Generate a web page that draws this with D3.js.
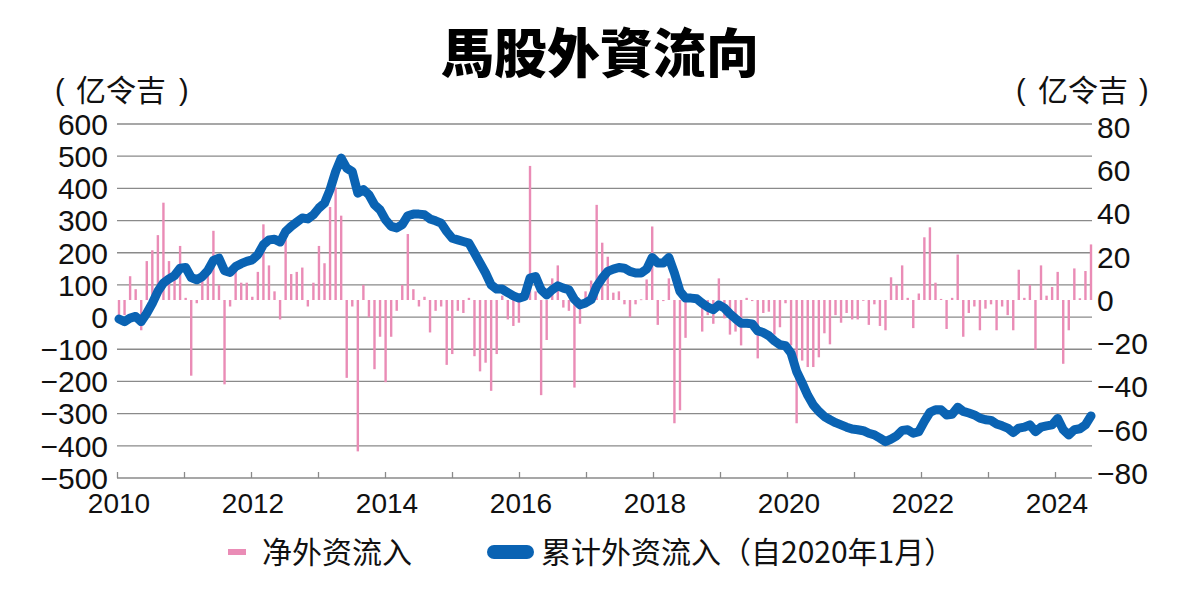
<!DOCTYPE html>
<html>
<head>
<meta charset="utf-8">
<script src="https://cdn.jsdelivr.net/npm/d3@7/dist/d3.min.js"></script>
<style>
  html, body { margin: 0; padding: 0; background: #fff; }
  svg { display: block; }
</style>
</head>
<body>
<svg id="chart" width="1200" height="600"></svg>
<script>
// ---------------- DATA ----------------
const title = "馬股外資流向";
const unitLabel = "亿令吉";
const legendBars = "净外资流入";
const legendLine = "累计外资流入（自2020年1月）";

// monthly categories Jan 2010 .. Aug 2024
const startYear = 2010;
const nMonths = 176;
const months = d3.range(nMonths).map(i => `${startYear + Math.floor(i / 12)}-${String(i % 12 + 1).padStart(2, "0")}`);

// net monthly foreign flow (right axis, 亿令吉)
const netFlow = [
  -7, -7, 11, 5, -14, 18, 23, 30, 45, 18, 12, 25,
  1, -35, -1.5, 10, 12, 32, 7, -39, -3, 14, 8, 8,
  1.5, 13, 35, 16, 4, -9, 28, 12, 13, 15, -3, 8,
  25, 17, 43, 52, 39, -36, -3, -70, 7, -8, -32, -17,
  -38, -17, -5, 7, 30.5, 5, -3, 1.5, -15, -5, -3, -30,
  -25, -5, -6, 1, -26, -33, -29, -42, -25, 2, -9, -12,
  -10.5, 0.5, 62, 4, -44, -18.5, 10, 16, -3.5, -5, -40.5, -11,
  4, 9, 44, 26.5, 20, 3.4, 4, -2, -8, -2, 0.3, 9.5,
  34, -11.5, -0.5, 10, -57, -51, -17.5, 0.3, -0.3, -14.6, -7, -11,
  10, -8.5, -16, -14.6, -21, 1, -0.5, -27, -6, -5.4, -16, -12.6,
  -1.5, -21, -57, -28, -31, -31, -26.5, -15.4, -20.5, -7, -10.5, -6,
  -9, -9, -0.3, -11.5, -2, -12, -14, 10.5, 7, 16, 1, -13,
  3, 29, 33.6, 8, 0.5, -13.4, 1, 21, -17, -6, -3, -14,
  -4, -2, -14, -3, -7, -14, 14, 1, 7, -23, 16, 2,
  6, 13, -29.5, -14, 14.6, 0.8, 13.4, 25.7
];

// cumulative foreign flow (left axis, 亿令吉)
const cumFlow = [
  -6, -14, -3, 2, -14, 12, 43, 80, 106, 119, 129, 152,
  154, 123, 116, 126, 145, 176, 183, 144, 139, 157, 166, 173,
  178, 194, 225, 240, 242, 233, 266, 282, 295, 308, 305, 318,
  339, 354, 396, 452, 494, 463, 452, 385, 396, 380, 349, 333,
  302, 282, 277, 287, 315, 320, 320, 318, 305, 299, 292, 266,
  245, 240, 235, 230, 199, 168, 137, 100, 87, 87, 76, 66,
  59, 64, 121, 126, 85, 69, 85, 97, 90, 85, 55, 38,
  44, 54, 95, 121, 142, 149, 154, 152, 142, 137, 137, 149,
  185, 168, 168, 185, 137, 80, 59, 59, 57, 43, 31, 23,
  38, 28, 10, -5, -19, -19, -21, -43, -48, -58, -74, -86,
  -89, -112, -169, -205, -243, -273, -293, -309, -319, -328, -335, -342,
  -348, -350, -353, -361, -366, -376, -387, -379, -369, -352, -350, -361,
  -356, -324, -296, -288, -288, -304, -302, -280, -293, -298, -304, -314,
  -319, -321, -332, -338, -345, -359, -345, -342, -335, -356, -342, -338,
  -335, -315, -350, -366, -350, -347, -335, -307
];

const leftTicks = [600, 500, 400, 300, 200, 100, 0, -100, -200, -300, -400, -500];
const rightTicks = [80, 60, 40, 20, 0, -20, -40, -60, -80];
const yearTicks = d3.range(2010, 2025);
const yearLabels = [2010, 2012, 2014, 2016, 2018, 2020, 2022, 2024];

// ---------------- STYLE ----------------
const pink = "#ea8cb6";
const blue = "#0a63b3";
const grid = "#8a8a8a";
const numFont = "'Liberation Sans', Arial, Helvetica, sans-serif";
const cjkFont = "'Noto Sans CJK SC', 'Noto Sans CJK TC', sans-serif";
const titleFont = "'Noto Sans CJK TC', 'Noto Sans CJK SC', sans-serif";
const fmt = v => (v < 0 ? "\u2212" + Math.abs(v) : String(v));

const svg = d3.select("#chart");
svg.append("rect").attr("width", 1200).attr("height", 600).attr("fill", "#fff");

const plotL = 117, plotR = 1092;
const xMonth = d3.scaleLinear().domain([0, nMonths - 1]).range([119, 1091]);
const xYear = d3.scaleLinear().domain([2010, 2024]).range([117, 1055]);
const yLeft = d3.scaleLinear().domain([-500, 600]).range([478, 124]);
const yRight = d3.scaleLinear().domain([-80, 80]).range([473, 127]);

// gridlines
svg.append("g").selectAll("line")
  .data(leftTicks.filter(v => v > -500))
  .join("line")
  .attr("x1", plotL).attr("x2", plotR)
  .attr("y1", d => yLeft(d)).attr("y2", d => yLeft(d))
  .attr("stroke", grid).attr("stroke-width", 1.3);

// bottom axis
const xAxis = d3.axisBottom(xYear).tickValues(yearTicks).tickSize(-6).tickFormat("");
const gx = svg.append("g").attr("transform", `translate(0,${yLeft(-500)})`).call(xAxis);
gx.select(".domain").remove();
gx.selectAll(".tick line").attr("stroke", grid).attr("stroke-width", 1.3);
svg.append("line").attr("x1", plotL).attr("x2", plotR)
  .attr("y1", yLeft(-500)).attr("y2", yLeft(-500))
  .attr("stroke", grid).attr("stroke-width", 1.3);

svg.append("g").selectAll("text")
  .data(yearLabels).join("text")
  .attr("x", d => xYear(d) + 2).attr("y", 513)
  .attr("text-anchor", "middle")
  .attr("font-family", numFont).attr("font-size", 28).attr("fill", "#111")
  .text(d => d);

// left tick labels
svg.append("g").selectAll("text")
  .data(leftTicks).join("text")
  .attr("x", 108).attr("y", d => yLeft(d))
  .attr("dy", "0.36em")
  .attr("text-anchor", "end")
  .attr("font-family", numFont).attr("font-size", 30).attr("fill", "#111")
  .text(fmt);

// right tick labels
svg.append("g").selectAll("text")
  .data(rightTicks).join("text")
  .attr("x", 1097).attr("y", d => yRight(d))
  .attr("dy", "0.36em")
  .attr("text-anchor", "start")
  .attr("font-family", numFont).attr("font-size", 30).attr("fill", "#111")
  .text(fmt);

// bars
svg.append("g").selectAll("rect")
  .data(netFlow).join("rect")
  .attr("x", (d, i) => xMonth(i) - 1.2)
  .attr("width", 2.4)
  .attr("y", d => Math.min(yRight(d), yRight(0)))
  .attr("height", d => Math.max(0.8, Math.abs(yRight(d) - yRight(0))))
  .attr("fill", pink);

// line
const line = d3.line().x((d, i) => xMonth(i)).y(d => yLeft(d)).curve(d3.curveLinear);
svg.append("path")
  .datum(cumFlow)
  .attr("d", line)
  .attr("fill", "none")
  .attr("stroke", blue)
  .attr("stroke-width", 9)
  .attr("stroke-linejoin", "round")
  .attr("stroke-linecap", "round");

// title
svg.append("text")
  .attr("x", 600).attr("y", 54).attr("dy", "0.36em")
  .attr("text-anchor", "middle")
  .attr("font-family", titleFont).attr("font-weight", 900)
  .attr("font-size", 53).attr("fill", "#000")
  .text(title);

// unit labels
function unit(x0, xc, x1) {
  const g = svg.append("g").attr("font-size", 30).attr("fill", "#111");
  g.append("text").attr("x", x0).attr("y", 90).attr("dy", "0.34em")
    .attr("font-family", numFont).attr("font-size", 29).text("(");
  g.append("text").attr("x", xc).attr("y", 90).attr("dy", "0.36em")
    .attr("font-family", cjkFont).text(unitLabel);
  g.append("text").attr("x", x1).attr("y", 90).attr("dy", "0.34em")
    .attr("font-family", numFont).attr("font-size", 29).text(")");
}
unit(55, 76, 179);
unit(1016, 1038, 1139);

// legend
const lg = svg.append("g");
lg.append("line").attr("x1", 228).attr("x2", 246).attr("y1", 552).attr("y2", 552)
  .attr("stroke", pink).attr("stroke-width", 6);
lg.append("text").attr("x", 262).attr("y", 552).attr("dy", "0.36em")
  .attr("font-family", cjkFont).attr("font-size", 30).attr("fill", "#111")
  .text(legendBars);
lg.append("line").attr("x1", 494).attr("x2", 527).attr("y1", 552).attr("y2", 552)
  .attr("stroke", blue).attr("stroke-width", 14).attr("stroke-linecap", "round");
lg.append("text").attr("x", 541).attr("y", 552).attr("dy", "0.36em")
  .attr("font-family", cjkFont).attr("font-size", 30).attr("fill", "#111")
  .text(legendLine);
</script>
</body>
</html>
